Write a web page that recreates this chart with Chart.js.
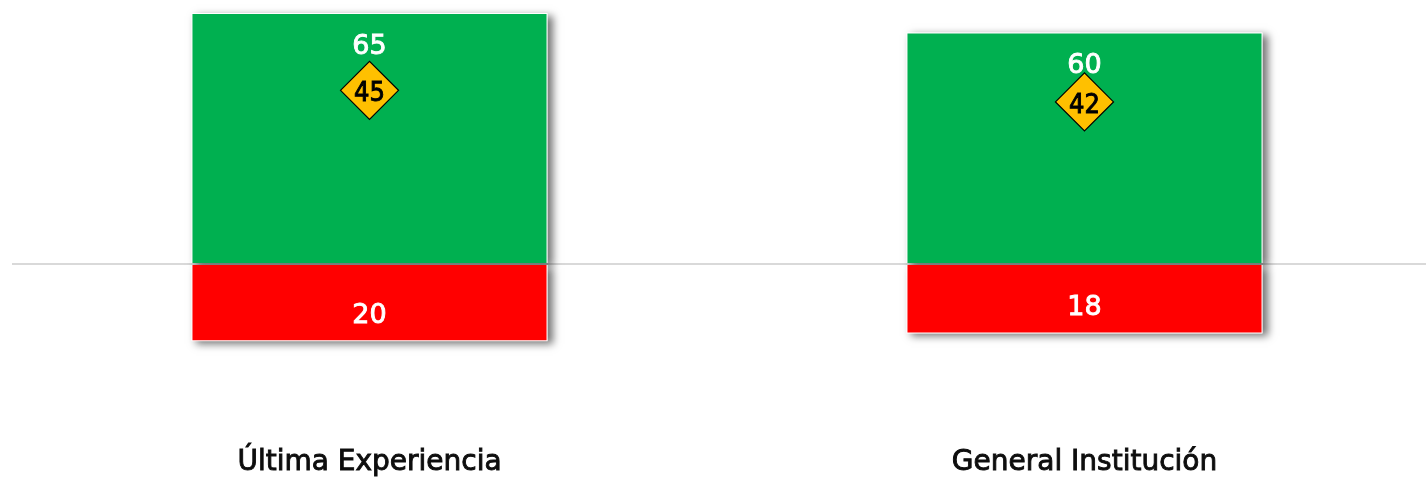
<!DOCTYPE html>
<html>
<head>
<meta charset="utf-8">
<script src="https://cdn.jsdelivr.net/npm/chart.js@4.4.0/dist/chart.umd.min.js"></script>
<style>
  html, body { margin: 0; padding: 0; background: #fff; overflow: hidden; }
  #wrap { width: 1442px; height: 479px; position: relative; }
</style>
</head>
<body>
<div id="wrap"><canvas id="chart"></canvas></div>
<script>
const categories = ['Última Experiencia', 'General Institución'];
const positiveValues = [65, 60];
const negativeValues = [-20, -18];
const markerValues = [45, 42];

const fontFamily = "'DejaVu Sans', sans-serif";
const narrowFamily = "'DejaVu Sans Condensed', 'DejaVu Sans', sans-serif";

// soft grey shadow behind each bar (drawn first, bars cover the rect itself)
const barShadow = {
    id: 'barShadow',
    beforeDatasetsDraw(chart) {
        const ctx = chart.ctx;
        ctx.save();
        ctx.shadowColor = 'rgba(0, 0, 0, 0.55)';
        ctx.shadowBlur = 8;
        ctx.shadowOffsetX = 5;
        ctx.shadowOffsetY = 3;
        ctx.fillStyle = '#fff';
        chart.data.datasets.forEach((ds, i) => {
            const meta = chart.getDatasetMeta(i);
            if (meta.type !== 'bar') return;
            meta.data.forEach(bar => {
                const top = Math.min(bar.y, bar.base);
                const h = Math.abs(bar.base - bar.y);
                ctx.fillRect(bar.x - bar.width / 2, top, bar.width, h);
            });
        });
        ctx.restore();
    }
};

function drawNumber(ctx, text, x, y, color) {
    ctx.fillStyle = color;
    ctx.strokeStyle = color;
    ctx.lineWidth = 0.9;
    ctx.fillText(text, x, y);
    ctx.strokeText(text, x, y);
}

// numbers inside the bar ends and inside the diamonds
const valueLabels = {
    id: 'valueLabels',
    afterDatasetsDraw(chart) {
        const ctx = chart.ctx;
        ctx.save();
        ctx.textAlign = 'center';
        ctx.textBaseline = 'alphabetic';
        chart.data.datasets.forEach((ds, i) => {
            const meta = chart.getDatasetMeta(i);
            meta.data.forEach((el, j) => {
                const v = ds.data[j];
                if (meta.type === 'line') {
                    ctx.font = '27px ' + narrowFamily;
                    drawNumber(ctx, v, el.x, el.y + 11, '#000');
                } else {
                    ctx.font = '27px ' + fontFamily;
                    const y = v >= 0 ? el.y + 41 : el.y - 18;
                    drawNumber(ctx, Math.abs(v), el.x, y, '#fff');
                }
            });
        });
        ctx.restore();
    }
};

new Chart(document.getElementById('chart').getContext('2d'), {
    type: 'bar',
    data: {
        labels: categories,
        datasets: [
            {
                type: 'line',
                data: markerValues,
                stack: 'marker',
                showLine: false,
                pointStyle: 'rectRot',
                pointRadius: 29,
                pointBackgroundColor: '#FFC000',
                pointBorderColor: '#000',
                pointBorderWidth: 1.2,
                order: 0
            },
            {
                data: positiveValues,
                backgroundColor: '#00B050',
                borderColor: '#fff',
                borderWidth: 1,
                order: 1
            },
            {
                data: negativeValues,
                backgroundColor: '#FF0000',
                borderColor: '#fff',
                borderWidth: 1,
                order: 1
            }
        ]
    },
    options: {
        responsive: true,
        maintainAspectRatio: false,
        animation: false,
        events: [],
        layout: { autoPadding: false, padding: { left: 12, right: 0, top: 0, bottom: 0 } },
        datasets: {
            bar: { categoryPercentage: 1, barPercentage: 0.498 }
        },
        scales: {
            x: {
                stacked: true,
                afterFit: axis => { axis.height = 39; },
                grid: { display: false, drawTicks: false },
                border: { display: false },
                ticks: {
                    color: '#0d0d0d',
                    textStrokeColor: '#0d0d0d',
                    textStrokeWidth: 0.9,
                    padding: 6,
                    font: { family: fontFamily, size: 28 }
                }
            },
            y: {
                stacked: true,
                min: -45.6,
                max: 68.4,
                z: 1,
                afterBuildTicks: axis => { axis.ticks = [{ value: 0 }]; },
                grid: { color: '#d9d9d9', lineWidth: 2, drawTicks: false },
                border: { display: false },
                ticks: { display: false }
            }
        },
        plugins: {
            legend: { display: false },
            tooltip: { enabled: false }
        }
    },
    plugins: [barShadow, valueLabels]
});
</script>
</body>
</html>
